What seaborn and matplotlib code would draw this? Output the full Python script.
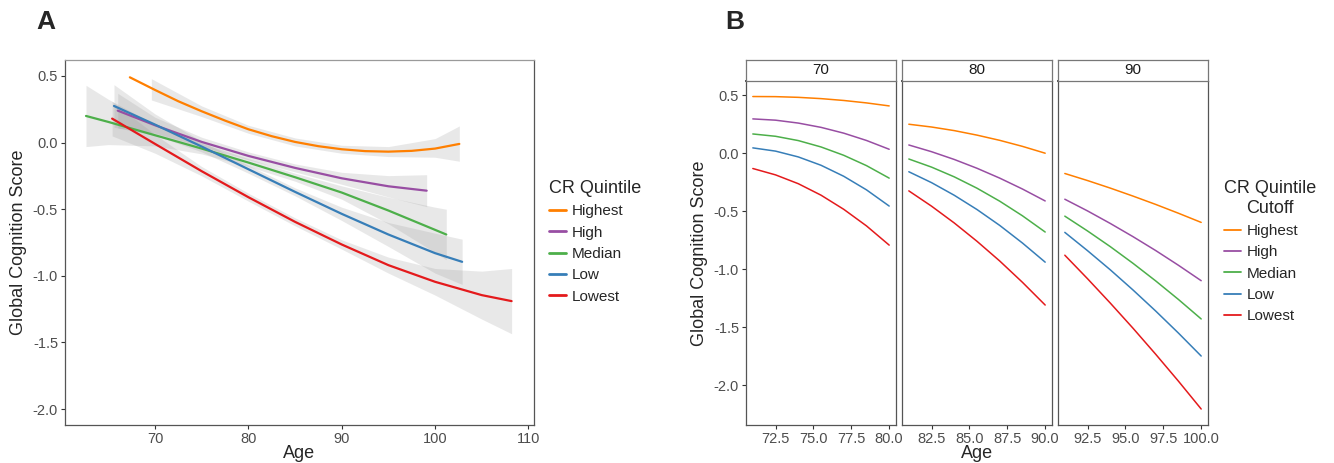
import pandas as pd
import seaborn as sns
import matplotlib
matplotlib.use('Agg')
from matplotlib import pyplot as plt
from matplotlib.lines import Line2D

sns.set_theme(style='white')
plt.rcParams['font.family'] = ['Liberation Sans', 'DejaVu Sans']
plt.rcParams['axes.unicode_minus'] = False

# ---- data: panel A (smoothed trajectories with CI) ----
levels = ['Highest', 'High', 'Median', 'Low', 'Lowest']
colors = ['#FF7F00', '#984EA3', '#4DAF4A', '#377EB8', '#E41A1C']

age_highest = [67.3, 70, 72.5, 75, 77.5, 80, 82.5, 85, 87.5, 90, 92.5, 95, 97.5, 100, 102.6]
score_highest = [0.49, 0.395, 0.31, 0.235, 0.165, 0.10, 0.048, 0.005, -0.027, -0.05, -0.064,
                 -0.068, -0.062, -0.045, -0.01]
band_age_highest = [69.6, 75, 80, 85, 90, 95, 100, 102.6]
band_lo_highest = [0.32, 0.195, 0.07, -0.025, -0.08, -0.105, -0.11, -0.14]
band_hi_highest = [0.48, 0.275, 0.13, 0.035, -0.02, -0.03, 0.03, 0.125]

age_high = [66.0, 70, 75, 80, 85, 90, 95, 99.1]
score_high = [0.24, 0.13, 0.005, -0.10, -0.19, -0.268, -0.328, -0.361]
hw_high = [0.13, 0.06, 0.035, 0.03, 0.03, 0.045, 0.08, 0.12]

age_median = [62.6, 65, 70, 75, 80, 85, 90, 95, 100, 101.2]
score_median = [0.20, 0.155, 0.055, -0.045, -0.15, -0.26, -0.375, -0.51, -0.655, -0.69]
hw_median = [0.23, 0.17, 0.08, 0.04, 0.03, 0.03, 0.05, 0.10, 0.17, 0.19]

age_low = [65.6, 70, 75, 80, 85, 90, 95, 100, 102.9]
score_low = [0.275, 0.135, -0.03, -0.20, -0.37, -0.535, -0.69, -0.83, -0.895]
hw_low = [0.16, 0.08, 0.04, 0.03, 0.03, 0.05, 0.09, 0.15, 0.17]

age_lowest = [65.4, 70, 75, 80, 85, 90, 95, 100, 105, 108.2]
score_lowest = [0.18, -0.01, -0.215, -0.41, -0.595, -0.765, -0.92, -1.045, -1.145, -1.19]
hw_lowest = [0.13, 0.07, 0.035, 0.03, 0.03, 0.035, 0.06, 0.10, 0.18, 0.245]

a_xticks = [70, 80, 90, 100, 110]
a_yticks = [0.5, 0.0, -0.5, -1.0, -1.5, -2.0]

# ---- data: panel B (predicted trajectories by baseline age) ----
b_facets = [70, 80, 90]
b_facet = [70] * 7 + [80] * 7 + [90] * 7
b_age = [71, 72.5, 74, 75.5, 77, 78.5, 80,
         81, 82.5, 84, 85.5, 87, 88.5, 90,
         91, 92.5, 94, 95.5, 97, 98.5, 100]
b_highest = [0.489, 0.488, 0.482, 0.471, 0.455, 0.434, 0.408,
             0.25, 0.226, 0.195, 0.156, 0.111, 0.059, 0.0,
             -0.175, -0.236, -0.301, -0.37, -0.442, -0.518, -0.597]
b_high = [0.296, 0.285, 0.26, 0.223, 0.173, 0.11, 0.034,
          0.071, 0.013, -0.054, -0.13, -0.215, -0.309, -0.412,
          -0.397, -0.498, -0.606, -0.72, -0.84, -0.967, -1.10]
b_median = [0.166, 0.146, 0.109, 0.054, -0.018, -0.107, -0.215,
            -0.05, -0.12, -0.204, -0.302, -0.414, -0.54, -0.68,
            -0.543, -0.671, -0.806, -0.95, -1.102, -1.262, -1.43]
b_low = [0.046, 0.018, -0.032, -0.104, -0.199, -0.316, -0.456,
         -0.16, -0.254, -0.363, -0.486, -0.623, -0.775, -0.94,
         -0.683, -0.841, -1.006, -1.18, -1.362, -1.552, -1.75]
b_lowest = [-0.132, -0.187, -0.263, -0.362, -0.484, -0.627, -0.793,
            -0.325, -0.457, -0.602, -0.76, -0.93, -1.114, -1.31,
            -0.88, -1.083, -1.293, -1.51, -1.735, -1.967, -2.207]
b_xticks = {70: [72.5, 75.0, 77.5, 80.0], 80: [82.5, 85.0, 87.5, 90.0], 90: [92.5, 95.0, 97.5, 100.0]}
b_yticks = [0.5, 0.0, -0.5, -1.0, -1.5, -2.0]

# build long tables
rows = []
for lev, ages, vals in zip(levels, [age_highest, age_high, age_median, age_low, age_lowest],
                           [score_highest, score_high, score_median, score_low, score_lowest]):
    for a, v in zip(ages, vals):
        rows.append({'Age': a, 'Score': v, 'CR Quintile': lev})
dfA = pd.DataFrame(rows)

bands = [(band_age_highest, band_lo_highest, band_hi_highest)]
for ages, vals, hw in [(age_high, score_high, hw_high), (age_median, score_median, hw_median),
                       (age_low, score_low, hw_low), (age_lowest, score_lowest, hw_lowest)]:
    bands.append((ages, [v - h for v, h in zip(vals, hw)], [v + h for v, h in zip(vals, hw)]))

rows = []
for lev, vals in zip(levels, [b_highest, b_high, b_median, b_low, b_lowest]):
    for f, a, v in zip(b_facet, b_age, vals):
        rows.append({'Facet': f, 'Age': a, 'Score': v, 'CR Quintile': lev})
dfB = pd.DataFrame(rows)

# ---- figure ----
W, H = 1334, 463
fig = plt.figure(figsize=(W / 100, H / 100), dpi=100)


def box(l, t, r, b):
    return [l / W, 1 - b / H, (r - l) / W, (b - t) / H]


def style(ax):
    for s in ax.spines.values():
        s.set_color('#555555')
        s.set_linewidth(0.9)
    ax.spines['top'].set_color('#9a9a9a')
    ax.tick_params(axis='both', length=3, width=0.8, color='#333333', labelsize=10.5,
                   labelcolor='#4d4d4d', pad=2, bottom=True, left=True)
    ax.set_xlabel('')
    ax.set_ylabel('')


# panel A
axA = fig.add_axes(box(65, 60, 534, 425))
for x, lo, hi in bands:
    axA.fill_between(x, lo, hi, color='#999999', alpha=0.22, lw=0, zorder=1)
sns.lineplot(data=dfA, x='Age', y='Score', hue='CR Quintile', hue_order=levels, palette=colors,
             estimator=None, sort=True, linewidth=1.6, legend=False, ax=axA, zorder=3)
axA.set_xlim(60.35, 110.6)
axA.set_ylim(-2.12, 0.62)
axA.set_xticks(a_xticks)
axA.set_yticks(a_yticks)
axA.set_yticklabels([f'{t:.1f}' for t in a_yticks])
style(axA)

fig.text(36 / W, 1 - 22 / H, 'A', fontsize=19, fontweight='bold', va='center', ha='left')
fig.text(299 / W, 1 - 453 / H, 'Age', fontsize=13, ha='center', va='center')
fig.text(19 / W, 1 - 242 / H, 'Global Cognition Score', fontsize=13, rotation=90,
         ha='center', va='center')

# panel B facets
lefts = [746, 902, 1058]
for i, (f, l) in enumerate(zip(b_facets, lefts)):
    ax = fig.add_axes(box(l, 81, l + 150, 425))
    sub = dfB[dfB['Facet'] == f]
    sns.lineplot(data=sub, x='Age', y='Score', hue='CR Quintile', hue_order=levels, palette=colors,
                 estimator=None, sort=True, linewidth=1.1, legend=False, ax=ax)
    ax.set_xlim(f + 0.55, f + 10.45)
    ax.set_ylim(-2.345, 0.623)
    ax.set_xticks(b_xticks[f])
    ax.set_xticklabels([f'{t:.1f}' for t in b_xticks[f]])
    ax.set_yticks(b_yticks)
    style(ax)
    ax.spines['top'].set_color('#333333')
    ax.spines['top'].set_linewidth(1.3)
    if i == 0:
        ax.set_yticklabels([f'{t:.1f}' for t in b_yticks])
    else:
        ax.set_yticklabels([])
        ax.tick_params(axis='y', length=0)
    strip = fig.add_axes(box(l, 60, l + 150, 81))
    strip.set_xticks([])
    strip.set_yticks([])
    for s in strip.spines.values():
        s.set_color('#777777')
        s.set_linewidth(0.9)
    strip.text(0.5, 0.5, str(f), transform=strip.transAxes, ha='center', va='center',
               fontsize=11, color='#1a1a1a')

fig.text(725 / W, 1 - 22 / H, 'B', fontsize=19, fontweight='bold', va='center', ha='left')
fig.text(977 / W, 1 - 453 / H, 'Age', fontsize=13, ha='center', va='center')
fig.text(700 / W, 1 - 253 / H, 'Global Cognition Score', fontsize=13, rotation=90,
         ha='center', va='center')

# legends
hA = [Line2D([], [], color=c, lw=2) for c in colors]
fig.legend(hA, levels, title='CR Quintile', loc='upper left',
           bbox_to_anchor=(549 / W, 1 - 180 / H), frameon=False, fontsize=11,
           title_fontsize=13, handlelength=1.1, handletextpad=0.4, labelspacing=0.48,
           borderpad=0, borderaxespad=0, alignment='left')
hB = [Line2D([], [], color=c, lw=1.3) for c in colors]
legB = fig.legend(hB, levels, title='CR Quintile\nCutoff', loc='upper left',
                  bbox_to_anchor=(1224 / W, 1 - 180 / H), frameon=False, fontsize=11,
                  title_fontsize=13, handlelength=1.1, handletextpad=0.4, labelspacing=0.48,
                  borderpad=0, borderaxespad=0, alignment='left')
legB.get_title().set_multialignment('center')

fig.savefig('out.png', dpi=100)
